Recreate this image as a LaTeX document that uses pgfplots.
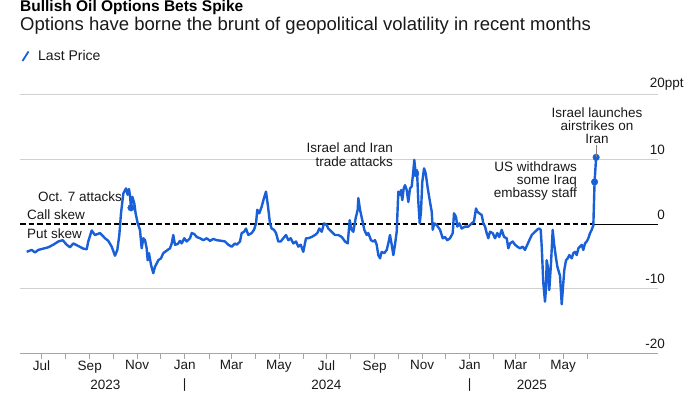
\documentclass[border=0pt]{standalone}
\usepackage{pgfplots}
\pgfplotsset{compat=1.18}
\usepackage{fontspec}
\setmainfont{Liberation Sans}
\definecolor{bblue}{RGB}{25,95,215}
\definecolor{gridc}{RGB}{208,208,208}
\definecolor{axc}{RGB}{165,165,165}
\definecolor{txt}{RGB}{25,25,25}
\newcommand{\sm}{\fontsize{13.5}{15}\selectfont}
\begin{document}
\begin{tikzpicture}
\useasboundingbox (0pt,0pt) rectangle (700pt,394pt);
\begin{axis}[
  at={(20pt,40.5pt)}, anchor=south west, scale only axis,
  width=638pt, height=259pt,
  xmin=-27.6, xmax=792, ymin=-20, ymax=20,
  clip=false,
  axis x line*=bottom, axis y line*=right,
  x axis line style={draw=axc, line width=0.8pt, -},
  y axis line style={draw=none},
  xtick={0,31,62,92,123,153,184,215,244,275,305,336,366,397,428,458,489,519,550,581,609,640,670,701},
  xticklabels={Jul,,Sep,,Nov,,Jan,,Mar,,May,,Jul,,Sep,,Nov,,Jan,,Mar,,May,},
  xticklabel style={font=\sm, text=txt, inner sep=1pt, yshift=-1pt},
  xtick style={draw=axc, line width=0.7pt},
  tick align=outside, major tick length=5pt,
  ytick={-20,-10,10,20},
  yticklabels={-20,-10,10,20\rlap{ppt}},
  extra y ticks={0}, extra y tick labels={0},
  extra y tick style={grid=none},
  yticklabel pos=right,
  yticklabel style={anchor=south east, font=\sm, text=txt, inner sep=0pt, yshift=4.5pt, xshift=2pt},
  ytick style={draw=none},
  ymajorgrids, grid style={gridc, line width=0.8pt},
]
\draw[black, line width=1.1pt, dash pattern=on 5.5pt off 3pt] (axis cs:-27.6,0) -- (axis cs:710,0);
\draw[black, line width=0.8pt] (axis cs:710,0) -- (axis cs:792,0);
\addplot[bblue, line width=2.4pt, line join=round] coordinates {
(-19,-4.3) (-12.6,-4.0) (-8.4,-4.4) (-4.1,-4.0) (2.3,-3.8) (8.7,-3.6) (15.2,-3.2) (21.6,-2.7) (27.2,-2.5) (32.4,-3.2) (36.6,-3.6) (40.9,-3.0) (47.3,-3.4) (53.7,-3.8) (58.1,-3.9) (60.1,-2.7) (64.5,-1.0) (68.7,-1.7) (75.2,-1.4) (81.6,-2.2) (85.8,-2.6) (90.2,-3.5) (94.4,-4.9) (97.4,-4.0) (100,-1.7) (102.1,1.6) (105.1,4.7) (108.6,5.5) (110.7,4.5) (112.4,5.4) (113.7,4.4) (115,2.5) (116.7,4.2) (119.2,3.2) (121,1.6) (123.6,0.1) (126.5,-0.9) (128.7,-3.75) (130.8,-2.2) (133,-2.5) (135.1,-3.75) (136.4,-5.6) (138.1,-4.5) (140.7,-6.3) (143.6,-7.6) (145.8,-6.6) (148,-6.1) (150,-5.6) (153.5,-5.3) (156.5,-4.5) (158.7,-4.3) (162.1,-4.0) (165.1,-3.75) (167.3,-3.0) (169.3,-1.7) (171.5,-3.2) (175,-3.1) (177.9,-2.6) (180.1,-3.0) (183.5,-2.2) (186.5,-2.7) (190.8,-2.2) (193,-1.4) (196.3,-1.55) (199.4,-2.0) (203.6,-2.2) (207.9,-2.5) (212.2,-2.2) (216.5,-2.6) (220.7,-2.3) (225.1,-2.5) (231.5,-2.6) (235.7,-2.7) (240,-3.2) (244.3,-3.5) (248.6,-3.0) (250.8,-3.2) (255,-2.7) (257.2,-1.4) (260.2,-1.2) (262.7,-0.7) (265.7,-1.7) (270,-1.4) (273,-0.9) (275.6,0.1) (277.2,2.2) (279.8,1.65) (282.9,2.7) (285.8,4.0) (288.4,5.0) (291,2.7) (293.5,0.1) (295.7,-0.7) (298.7,-0.9) (301.3,-1.4) (304.2,-2.7) (307.3,-2.7) (310.6,-2.2) (314.1,-1.7) (317.1,-2.5) (320.1,-2.2) (323.5,-3.0) (327,-2.7) (329.9,-3.5) (333,-3.2) (336.3,-4.3) (339.8,-2.2) (342.8,-2.2) (347.1,-2.0) (351.4,-1.7) (354.3,-1.4) (356.9,-0.7) (360,-1.2) (362.9,0.1) (366.4,-0.15) (368.4,-0.7) (372.8,-1.2) (377,-1.7) (381.3,-1.7) (385.7,-2.0) (389.9,-2.7) (393.4,-3.0) (395.9,0.6) (398.5,-0.9) (400.6,-1.2) (403.6,0.9) (406.2,2.2) (407,4.0) (409.2,2.2) (412.1,0.6) (414.7,-0.9) (417.8,-1.7) (419.8,-1.4) (423.3,-2.5) (426.3,-2.7) (428.4,-2.5) (430.6,-3.2) (432.7,-4.8) (434.9,-5.3) (437,-4.3) (440.4,-4.5) (443.5,-4.0) (445.5,-3.0) (447.7,-1.7) (449.9,-3.2) (452,-4.8) (454.1,-3.2) (456.3,-1.2) (458.4,5.0) (460.6,4.5) (461.9,5.25) (463.5,3.7) (465.3,5.5) (467,6.0) (469.2,5.25) (471.2,3.4) (473.4,5.5) (475.6,5.8) (477.6,8.1) (478.9,9.9) (480.7,7.8) (482.4,8.3) (484.1,3.4) (485.9,0.1) (487.5,1.9) (489.2,6.5) (491.4,8.6) (493.6,7.8) (496.2,5.5) (499.1,3.4) (501.3,1.9) (502.6,-0.9) (504.6,0.1) (507.7,-0.15) (512,-0.9) (515.4,-2.2) (518.4,-2.0) (521.3,-2.5) (524.8,-2.2) (528.3,-1.4) (529.9,1.65) (532.5,1.1) (534.2,-0.4) (536.7,0.1) (539.8,-0.7) (544.1,-0.4) (548.3,-0.4) (552.7,0.1) (555.6,0.4) (558.2,2.4) (559.9,1.9) (562.4,1.65) (565.5,1.4) (567.6,0.1) (569.8,-0.4) (571.9,-1.4) (574,-2.2) (576.2,-1.2) (579.6,-1.4) (582.6,-2.2) (585.6,-1.4) (588.1,-2.0) (591.2,-0.9) (594.2,-2.0) (597.6,-2.2) (599.7,-3.75) (601.9,-3.0) (605.3,-2.7) (608.3,-3.2) (611.3,-3.5) (614.7,-3.75) (618.2,-3.5) (621.1,-4.0) (624.1,-3.2) (626.7,-2.5) (629.8,-1.7) (634,-1.2) (637.5,-0.8) (639.5,-0.7) (641.3,-0.9) (642.6,-3.5) (644.6,-9.0) (646.8,-12.0) (648.1,-9.9) (649,-5.6) (651,-7.0) (652.3,-10.2) (654.5,-6.1) (656.7,-0.9) (658.4,-3.0) (661,-5.3) (662.7,-6.6) (666.1,-8.0) (668.3,-12.4) (670.4,-9.0) (671.6,-7.1) (673.8,-5.6) (676,-5.3) (678.1,-4.8) (681.2,-5.3) (683.2,-4.5) (685.4,-4.3) (687.6,-4.8) (689.7,-3.75) (691.8,-3.5) (694,-3.2) (696,-4.0) (698.2,-3.0) (700.4,-2.7) (702.5,-2.2) (704.7,-1.4) (706.8,-0.9) (708.9,-0.2) (710.5,6.5) (712.5,10.3)
};
\addplot[only marks, mark=*, mark size=3.3pt, bblue] coordinates {(115,2.5) (480.7,7.8) (710.5,6.5) (712.5,10.3)};
% year labels
\node[font=\sm, text=txt] at (axis cs:82,-20) [yshift=-31pt] {2023};
\node[font=\sm, text=txt] at (axis cs:366,-20) [yshift=-31pt] {2024};
\node[font=\sm, text=txt] at (axis cs:630,-20) [yshift=-31pt] {2025};
\node[font=\sm, text=txt] at (axis cs:184,-20) [yshift=-32pt] {|};
\node[font=\sm, text=txt] at (axis cs:550,-20) [yshift=-32pt] {|};
\end{axis}
% title, subtitle, legend
\node[anchor=base west, inner sep=0pt, font=\bfseries\fontsize{15.5}{17}\selectfont] at (20pt,382.5pt) {Bullish Oil Options Bets Spike};
\node[anchor=base west, inner sep=0pt, font=\fontsize{18.5}{20}\selectfont, text=txt] at (20pt,363pt) {Options have borne the brunt of geopolitical volatility in recent months};
\draw[bblue, line width=1.8pt] (22.5pt,333pt) -- (28.5pt,342.5pt);
\node[anchor=base west, inner sep=0pt, font=\fontsize{14}{15}\selectfont, text=txt] at (38pt,333pt) {Last Price};
% annotations
\node[anchor=base east, inner sep=0pt, font=\sm, text=txt] at (122pt,193pt) {Oct. 7 attacks};
\node[anchor=base west, inner sep=0pt, font=\sm, text=txt] at (27pt,175pt) {Call skew};
\node[anchor=base west, inner sep=0pt, font=\sm, text=txt] at (27pt,156pt) {Put skew};
\node[anchor=base east, inner sep=0pt, font=\sm, text=txt] at (393pt,241pt) {Israel and Iran};
\node[anchor=base east, inner sep=0pt, font=\sm, text=txt] at (393pt,228pt) {trade attacks};
\node[anchor=base, inner sep=0pt, font=\sm, text=txt] at (597pt,276pt) {Israel launches};
\node[anchor=base, inner sep=0pt, font=\sm, text=txt] at (597pt,263pt) {airstrikes on};
\node[anchor=base, inner sep=0pt, font=\sm, text=txt] at (597pt,250.5pt) {Iran};
\draw[gray, line width=0.6pt] (596.5pt,248.5pt) -- (596.5pt,237pt);
\node[anchor=base east, inner sep=0pt, font=\sm, text=txt] at (577pt,222.5pt) {US withdraws};
\node[anchor=base east, inner sep=0pt, font=\sm, text=txt] at (577pt,209.5pt) {some Iraq};
\node[anchor=base east, inner sep=0pt, font=\sm, text=txt] at (577pt,197pt) {embassy staff};
\end{tikzpicture}
\end{document}
